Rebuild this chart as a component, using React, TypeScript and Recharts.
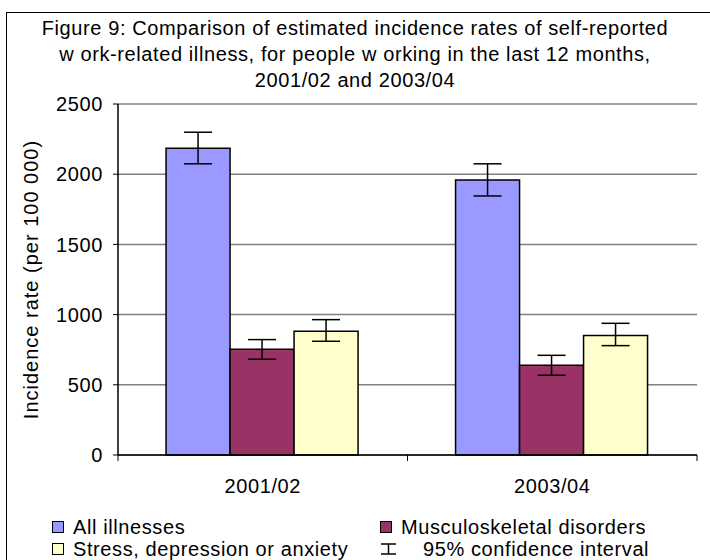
import React from 'react';
import { BarChart, Bar, XAxis, YAxis, CartesianGrid, ErrorBar } from 'recharts';

// values (incidence per 100 000)
const years = ['2001/02', '2003/04'];
const allIllnesses = [2185, 1958];
const musculoskeletal = [753, 639];
const stress = [881, 852];
// 95% confidence interval bounds
const allLow = [2074, 1845];
const allHigh = [2299, 2074];
const muscLow = [682, 568];
const muscHigh = [822, 710];
const stressLow = [810, 779];
const stressHigh = [964, 938];
const yTicks = [0, 500, 1000, 1500, 2000, 2500];

const series = [
  { key: 'all', name: 'All illnesses', color: '#9999FF' },
  { key: 'msd', name: 'Musculoskeletal disorders', color: '#993366' },
  { key: 'sda', name: 'Stress, depression or anxiety', color: '#FFFFCC' },
];

const data = years.map((y, i) => ({
  year: y,
  all: allIllnesses[i],
  allErr: [allIllnesses[i] - allLow[i], allHigh[i] - allIllnesses[i]],
  msd: musculoskeletal[i],
  msdErr: [musculoskeletal[i] - muscLow[i], muscHigh[i] - musculoskeletal[i]],
  sda: stress[i],
  sdaErr: [stress[i] - stressLow[i], stressHigh[i] - stress[i]],
}));

const FONT = '"Liberation Sans", Arial, sans-serif';
const SPACING = '0.6px';

// category label plus Excel-style tick marks between the categories
const YearTick = (props: any) => {
  const { x, y, payload, index } = props;
  const half = payload.offset || 0;
  const axisY = y - 24;
  return (
    <g>
      {index === 0 && <line x1={x - half} x2={x - half} y1={axisY} y2={axisY + 6} stroke="#000" />}
      <line x1={x + half} x2={x + half} y1={axisY} y2={axisY + 6} stroke="#000" />
      <text
        x={x}
        y={y}
        dy="0.71em"
        textAnchor="middle"
        fontSize={20}
        fill="#000"
        fontFamily={FONT}
        style={{ letterSpacing: SPACING }}
      >
        {payload.value}
      </text>
    </g>
  );
};

const Legend = () => {
  const items = [
    { ...series[0], kind: 'box' },
    { ...series[1], kind: 'box' },
    { ...series[2], kind: 'box' },
    { key: 'ci', name: '95% confidence interval', color: '#000', kind: 'ci' },
  ];
  return (
    <div
      style={{
        position: 'absolute', left: 52, top: 516, display: 'grid',
        gridTemplateColumns: '328px 320px', fontFamily: FONT, fontSize: 20, letterSpacing: SPACING,
      }}
    >
      {items.map((it) => (
        <div key={it.key} style={{ display: 'flex', alignItems: 'center', height: 22, whiteSpace: 'nowrap' }}>
          {it.kind === 'box' ? (
            <span style={{ width: 10, height: 10, background: it.color, border: '1px solid #000', marginRight: 9 }} />
          ) : (
            <svg width={17} height={12} style={{ marginRight: 26 }}>
              <line x1={1} x2={16} y1={1} y2={1} stroke="#000" strokeWidth={1.5} />
              <line x1={8.5} x2={8.5} y1={1} y2={11} stroke="#000" strokeWidth={1.5} />
              <line x1={1} x2={16} y1={11} y2={11} stroke="#000" strokeWidth={1.5} />
            </svg>
          )}
          <span>{it.name}</span>
        </div>
      ))}
    </div>
  );
};

export default function App() {
  return (
    <div style={{ position: 'absolute', left: 0, top: 0, width: 710, height: 560, overflow: 'hidden', background: '#fff' }}>
      {/* outer frame, cut off at right and bottom */}
      <div style={{ position: 'absolute', left: 6, top: 12, width: 720, height: 600, borderLeft: '1.5px solid #000', borderTop: '1.5px solid #000' }} />
      <div
        style={{
          position: 'absolute', left: 0, top: 15, width: 710, textAlign: 'center',
          fontFamily: FONT, fontSize: 20, lineHeight: '26px', color: '#000', letterSpacing: SPACING,
        }}
      >
        Figure 9: Comparison of estimated incidence rates of self-reported
        <br />
        w ork-related illness, for people w orking in the last 12 months,
        <br />
        2001/02 and 2003/04
      </div>
      <div style={{ position: 'absolute', left: 0, top: 0 }}>
        <BarChart
          width={710}
          height={560}
          data={data}
          margin={{ top: 104, right: 13, bottom: 75, left: 0 }}
          barCategoryGap="16.6%"
          barGap={0}
        >
          <CartesianGrid vertical={false} stroke="#808080" strokeWidth={1.5} />
          <XAxis
            dataKey="year"
            height={30}
            tickLine={false}
            tickSize={0}
            tickMargin={24}
            axisLine={{ stroke: '#000', strokeWidth: 1.5 }}
            tick={<YearTick />}
            interval={0}
          />
          <YAxis
            width={118}
            domain={[0, 2500]}
            ticks={yTicks}
            tickSize={5}
            tickMargin={10}
            axisLine={{ stroke: '#000', strokeWidth: 1.5 }}
            tickLine={{ stroke: '#000' }}
            tick={{ fontSize: 20, fill: '#000', fontFamily: FONT, style: { letterSpacing: SPACING } }}
            label={{
              value: 'Incidence rate (per 100 000)',
              angle: -90,
              position: 'insideLeft',
              offset: 31,
              style: { textAnchor: 'middle', fontSize: 20, fill: '#000', fontFamily: FONT, letterSpacing: '1px' },
            }}
          />
          <YAxis
            yAxisId="frame"
            orientation="right"
            width={0}
            domain={[0, 2500]}
            tick={false}
            tickLine={false}
            axisLine={{ stroke: '#808080', strokeWidth: 1.5 }}
          />
          {series.map((s) => (
            <Bar key={s.key} dataKey={s.key} name={s.name} fill={s.color} stroke="#000" strokeWidth={1.5} isAnimationActive={false}>
              <ErrorBar dataKey={`${s.key}Err`} width={14} stroke="#000" strokeWidth={1.5} />
            </Bar>
          ))}
        </BarChart>
      </div>
      <Legend />
    </div>
  );
}
